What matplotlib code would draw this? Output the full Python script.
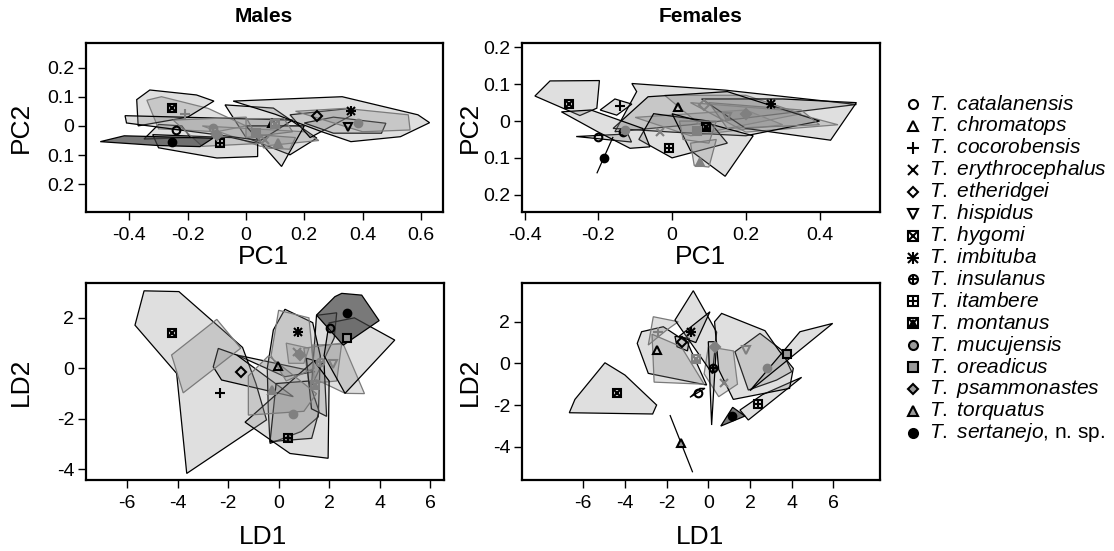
import matplotlib
matplotlib.use("Agg")
import matplotlib.pyplot as plt
from matplotlib.patches import Polygon

plt.rcParams["font.family"] = ["Liberation Sans", "DejaVu Sans"]
plt.rcParams["axes.unicode_minus"] = False
plt.rcParams["mathtext.fontset"] = "custom"
plt.rcParams["mathtext.rm"] = "Liberation Sans"
plt.rcParams["mathtext.it"] = "Liberation Sans:italic"

# species, in legend order
species = ["catalanensis", "chromatops", "cocorobensis", "erythrocephalus",
           "etheridgei", "hispidus", "hygomi", "imbituba", "insulanus",
           "itambere", "montanus", "mucujensis", "oreadicus", "psammonastes",
           "torquatus", "sertanejo"]

# ---------------- Males, PCA ----------------
males_pc_centroids = {
    "catalanensis": (-0.24, -0.015), "chromatops": (0.09, 0.01),
    "cocorobensis": (-0.21, 0.04), "erythrocephalus": (0.065, -0.05),
    "etheridgei": (0.245, 0.033), "hispidus": (0.35, -0.005),
    "hygomi": (-0.255, 0.061), "imbituba": (0.36, 0.05),
    "insulanus": (-0.112, -0.008), "itambere": (-0.09, -0.058),
    "montanus": (0.10, 0.005), "mucujensis": (0.385, 0.011),
    "oreadicus": (0.035, -0.025), "psammonastes": (-0.10, -0.03),
    "torquatus": (0.11, -0.06), "sertanejo": (-0.253, -0.054),
}
males_pc_hulls = {
    "hygomi": [(-0.375, 0.09), (-0.33, 0.123), (-0.17, 0.106), (-0.11, 0.085), (-0.2, 0.03), (-0.37, 0.0)],
    "cocorobensis": [(-0.34, 0.088), (-0.29, 0.1), (-0.13, 0.06), (0.0, 0.0), (-0.1, -0.02), (-0.3, -0.01)],
    "catalanensis": [(-0.3, 0.005), (-0.22, 0.0), (-0.19, -0.04), (-0.35, -0.045)],
    "sertanejo": [(-0.5, -0.054), (-0.418, -0.034), (-0.113, -0.042), (-0.158, -0.071), (-0.306, -0.067)],
    "itambere": [(-0.32, -0.03), (-0.05, -0.04), (0.04, -0.06), (0.04, -0.105), (-0.1, -0.11), (-0.3, -0.075)],
    "insulanus": [(-0.415, 0.035), (0.16, 0.02), (0.05, -0.05), (-0.41, 0.01)],
    "chromatops": [(-0.072, 0.072), (0.094, 0.061), (0.243, -0.042), (0.151, -0.099), (0.0, -0.04)],
    "oreadicus": [(0.0, 0.025), (0.13, 0.025), (0.16, -0.02), (0.0, -0.04)],
    "erythrocephalus": [(-0.15, 0.0), (0.2, -0.02), (0.25, -0.05), (0.05, -0.07)],
    "torquatus": [(0.04, -0.03), (0.17, -0.04), (0.15, -0.08), (0.06, -0.075)],
    "montanus": [(0.0, 0.0), (0.2, 0.0), (0.122, -0.139)],
    "psammonastes": [(-0.25, 0.02), (0.0, 0.03), (0.05, -0.06), (-0.15, -0.07)],
    "etheridgei": [(0.151, 0.038), (0.357, 0.06), (0.36, 0.035), (0.22, -0.04)],
    "hispidus": [(0.2, 0.01), (0.3, 0.03), (0.48, 0.009), (0.465, -0.025), (0.3, -0.025)],
    "mucujensis": [(0.17, 0.05), (0.34, 0.06), (0.557, 0.038), (0.563, -0.014), (0.4, -0.02)],
    "imbituba": [(-0.044, 0.085), (0.33, 0.1), (0.59, 0.038), (0.63, 0.011), (0.53, -0.037),
                 (0.36, -0.054), (0.26, -0.02), (0.1, 0.04)],
}
males_pc_grey_edges = ["cocorobensis", "oreadicus", "erythrocephalus", "torquatus", "psammonastes", "mucujensis"]
males_pc_grey_marks = ["cocorobensis", "erythrocephalus", "insulanus", "montanus", "mucujensis",
                       "oreadicus", "psammonastes", "torquatus"]

# ---------------- Females, PCA ----------------
females_pc_centroids = {
    "hygomi": (-0.279, 0.046), "catalanensis": (-0.2, -0.043),
    "sertanejo": (-0.184, -0.099), "cocorobensis": (-0.141, 0.041),
    "chromatops": (0.017, 0.037), "etheridgei": (0.087, 0.043),
    "hispidus": (0.148, 0.012), "montanus": (0.091, -0.015),
    "oreadicus": (0.069, -0.027), "itambere": (-0.007, -0.072),
    "mucujensis": (-0.128, -0.023), "insulanus": (-0.132, -0.029),
    "erythrocephalus": (-0.033, -0.029), "torquatus": (0.076, -0.11),
    "imbituba": (0.269, 0.046), "psammonastes": (0.2, 0.02),
}
females_pc_hulls = {
    "hygomi": [(-0.372, 0.068), (-0.331, 0.109), (-0.197, 0.11), (-0.204, 0.035), (-0.25, 0.015)],
    "catalanensis": [(-0.26, -0.042), (-0.12, -0.035), (-0.11, -0.057)],
    "sertanejo": [(-0.204, -0.142), (-0.16, -0.043)],
    "cocorobensis": [(-0.195, 0.03), (-0.155, 0.06), (-0.109, 0.046), (-0.15, 0.016)],
    "mucujensis": [(-0.3, 0.025), (-0.22, 0.03), (-0.08, -0.02), (-0.06, -0.07), (-0.114, -0.074), (-0.2, -0.03)],
    "chromatops": [(-0.109, 0.102), (-0.096, 0.08), (-0.155, -0.029), (0.05, -0.01), (0.5, 0.045), (0.144, 0.084)],
    "insulanus": [(-0.16, -0.02), (-0.065, 0.066), (0.15, 0.08), (0.4, 0.0), (0.2, -0.04), (0.0, -0.03)],
    "itambere": [(-0.05, 0.02), (0.1, 0.0), (0.15, -0.06), (0.0, -0.1), (-0.09, -0.05)],
    "erythrocephalus": [(-0.1, 0.01), (0.2, 0.03), (0.3, -0.01), (0.05, -0.04)],
    "etheridgei": [(-0.02, 0.07), (0.2, 0.07), (0.35, 0.02), (0.1, -0.03)],
    "hispidus": [(0.05, 0.05), (0.3, 0.03), (0.45, -0.01), (0.2, -0.03)],
    "imbituba": [(0.08, 0.06), (0.3, 0.06), (0.5, 0.05), (0.43, -0.052), (0.2, -0.02)],
    "oreadicus": [(0.02, 0.0), (0.12, 0.0), (0.1, -0.06), (0.03, -0.05)],
    "montanus": [(0.0, 0.02), (0.22, -0.04), (0.144, -0.15), (0.05, -0.08)],
    "torquatus": [(0.05, -0.06), (0.12, -0.05), (0.1, -0.125), (0.06, -0.12)],
    "psammonastes": [(0.1, 0.05), (0.35, 0.03), (0.4, -0.01), (0.15, -0.02)],
}
females_pc_grey_edges = ["erythrocephalus", "etheridgei", "hispidus", "oreadicus", "torquatus", "psammonastes"]
females_pc_grey_marks = ["etheridgei", "hispidus", "oreadicus", "mucujensis", "erythrocephalus",
                         "torquatus", "psammonastes"]

# ---------------- Males, LDA ----------------
males_ld_centroids = {
    "hygomi": (-4.24, 1.39), "cocorobensis": (-2.32, -0.97),
    "etheridgei": (-1.5, -0.13), "chromatops": (-0.02, 0.09),
    "imbituba": (0.78, 1.45), "psammonastes": (0.84, 0.53),
    "mucujensis": (0.58, -1.81), "itambere": (0.38, -2.77),
    "insulanus": (1.64, 0.26), "montanus": (1.44, -0.66),
    "torquatus": (-0.28, -0.86), "catalanensis": (2.03, 1.58),
    "hispidus": (2.14, 0.16), "sertanejo": (2.72, 2.18),
    "oreadicus": (2.69, 1.21), "erythrocephalus": (0.71, 0.66),
}
males_ld_hulls = {
    "cocorobensis": [(-5.33, 3.07), (-3.95, 3.04), (-1.43, 0.83), (-0.9, -0.6), (-0.48, -2.04),
                     (-3.64, -4.16), (-4.04, -0.2), (-5.69, 1.71)],
    "hygomi": [(-4.24, 0.53), (-2.45, 1.94), (-1.5, 0.8), (-3.78, -0.97)],
    "etheridgei": [(-2.39, 0.79), (-2.59, 0.06), (-2.26, -0.46), (0.58, -1.12), (-1.66, 0.53)],
    "chromatops": [(-1.66, 0.53), (1.44, -0.13), (0.25, -0.33)],
    "imbituba": [(0.25, 2.34), (1.35, 1.81), (1.65, 0.5), (1.57, -1.92), (0.9, -2.5), (-0.34, -2.97),
                 (-0.41, -1.65), (-0.45, 0.0), (-0.21, 1.52)],
    "mucujensis": [(-1.33, -2.13), (1.4, 0.3), (2.0, -0.5), (1.96, -3.56), (0.45, -3.37)],
    "itambere": [(-0.34, -2.9), (1.31, -2.77), (1.6, -1.7), (1.2, -0.5), (-0.1, -0.6)],
    "torquatus": [(-1.2, -1.85), (-1.2, -0.3), (-0.4, 0.5), (1.5, -1.0), (1.0, -1.7)],
    "psammonastes": [(0.0, 2.3), (1.2, 2.0), (1.4, 0.0), (0.3, -0.5), (-0.3, 0.5)],
    "erythrocephalus": [(0.3, 1.0), (1.2, 0.8), (1.0, 0.2), (0.4, 0.2)],
    "insulanus": [(1.0, 0.8), (2.5, 1.0), (2.3, -0.5), (1.2, -0.6)],
    "montanus": [(1.1, 0.4), (1.8, 0.2), (1.9, -1.9), (1.3, -1.6)],
    "hispidus": [(1.31, 0.92), (2.56, 0.96), (3.4, -1.0), (2.64, -0.99), (1.4, -0.4)],
    "catalanensis": [(1.5, 2.1), (2.3, 2.2), (2.2, 1.2), (1.3, -0.7)],
    "sertanejo": [(1.5, 2.11), (2.23, 2.84), (2.5, 2.97), (3.29, 2.9), (3.98, 1.89), (2.56, 0.92)],
    "oreadicus": [(2.0, 1.8), (3.0, 2.0), (4.6, 1.12), (2.63, -0.99), (1.8, 0.5)],
}
males_ld_grey_edges = ["hygomi", "torquatus", "psammonastes", "erythrocephalus", "insulanus", "hispidus"]
males_ld_grey_marks = ["psammonastes", "mucujensis", "insulanus", "montanus", "torquatus",
                       "hispidus", "erythrocephalus"]

# ---------------- Females, LDA ----------------
females_ld_centroids = {
    "hygomi": (-4.4, -1.41), "torquatus": (-1.31, -3.84),
    "cocorobensis": (-2.4, 1.52), "chromatops": (-2.48, 0.64),
    "etheridgei": (-1.28, 1.04), "imbituba": (-0.83, 1.52),
    "catalanensis": (-0.48, -1.44), "insulanus": (0.24, -0.24),
    "erythrocephalus": (0.77, -0.93), "sertanejo": (1.15, -2.53),
    "itambere": (2.4, -1.94), "hispidus": (1.81, 0.64),
    "mucujensis": (2.8, -0.24), "oreadicus": (3.79, 0.43),
    "psammonastes": (0.3, 0.8), "montanus": (-0.6, 0.2),
}
females_ld_hulls = {
    "hygomi": [(-4.96, 0.03), (-4.0, -0.56), (-2.48, -2.0), (-2.67, -2.43), (-6.67, -2.37), (-6.4, -1.73)],
    "torquatus": [(-1.84, -2.48), (-0.75, -5.23)],
    "cocorobensis": [(-2.64, 2.24), (-1.44, 2.0), (-2.0, 1.6), (-2.88, 0.88)],
    "chromatops": [(-3.2, 1.52), (-2.16, 1.76), (-1.0, 1.0), (-0.08, -1.04), (-2.88, -0.48), (-3.41, 0.96)],
    "imbituba": [(-0.72, 3.49), (0.4, 1.5), (0.2, -0.5), (-1.6, 2.08)],
    "etheridgei": [(-1.6, 1.3), (-0.9, 1.2), (-1.0, 0.6), (-1.5, 0.8)],
    "psammonastes": [(-1.4, 1.3), (0.08, 2.48), (-0.6, 1.0)],
    "catalanensis": [(-0.88, -1.63), (-0.16, -1.2), (-0.4, -1.2)],
    "insulanus": [(0.0, 1.04), (0.4, 1.04), (0.16, -2.96)],
    "montanus": [(-2.7, 1.4), (-1.3, 0.8), (-0.2, -1.0), (-2.6, -0.9)],
    "erythrocephalus": [(0.0, 0.8), (1.2, 0.6), (1.4, -1.0), (0.5, -1.6), (-0.2, -0.5)],
    "sertanejo": [(0.6, -3.01), (1.17, -2.11), (1.76, -2.53)],
    "itambere": [(1.52, -2.24), (1.92, -2.72), (4.48, -0.67), (2.6, -1.5)],
    "hispidus": [(1.28, 0.56), (2.48, 1.44), (3.52, 0.64), (4.0, -0.4), (3.28, -0.8), (1.92, -1.28)],
    "mucujensis": [(0.3, 2.0), (0.64, 2.4), (2.72, 1.57), (3.4, 0.6), (4.08, -0.24), (3.9, -1.2),
                   (1.2, -1.73), (0.5, -0.3)],
    "oreadicus": [(2.0, -1.31), (4.4, 1.52), (5.97, 1.92)],
}
females_ld_grey_edges = ["cocorobensis", "montanus", "erythrocephalus"]
females_ld_grey_marks = ["cocorobensis", "erythrocephalus", "hispidus", "mucujensis", "psammonastes", "montanus"]

# symbols (R pch look-alikes): marker, face, size factor
SYMBOLS = {
    "catalanensis": [("o", "none", 1.0)],
    "chromatops": [("^", "none", 1.0)],
    "cocorobensis": [("+", "line", 1.4)],
    "erythrocephalus": [("x", "line", 1.0)],
    "etheridgei": [("D", "none", 0.85)],
    "hispidus": [("v", "none", 1.0)],
    "hygomi": [("s", "none", 1.0), ("x", "line", 0.8)],
    "imbituba": [("+", "line", 1.3), ("x", "line", 1.0)],
    "insulanus": [("o", "none", 1.0), ("+", "line", 1.0)],
    "itambere": [("s", "none", 1.0), ("+", "line", 1.0)],
    "montanus": [("s", "none", 1.0), ("x", "line", 0.8), ("^", "none", 0.6)],
    "mucujensis": [("o", "grey", 1.0)],
    "oreadicus": [("s", "grey", 1.0)],
    "psammonastes": [("D", "grey", 0.85)],
    "torquatus": [("^", "grey", 1.0)],
    "sertanejo": [("o", "solid", 1.0)],
}


def draw_symbol(ax, sp, x, y, color, ms, edge="black"):
    for m, face, f in SYMBOLS[sp]:
        if face == "none":
            mfc, mec = "none", color
        elif face == "grey":
            mfc, mec = "#9a9a9a" if color == "black" else color, edge if color == "black" else color
        else:
            mfc, mec = color, color
        ax.plot([x], [y], marker=m, ms=ms * f, mfc=mfc, mec=mec, mew=1.5,
                ls="none", zorder=5)


def draw_panel(ax, hulls, centroids, grey_edges, grey_marks):
    for sp in species:
        if sp in hulls:
            if sp == "sertanejo":
                fc = (0.25, 0.25, 0.25, 0.7)
            else:
                fc = (0.55, 0.55, 0.55, 0.28)
            ec = "#7a7a7a" if sp in grey_edges else "black"
            ax.add_patch(Polygon(hulls[sp], closed=True, fc=fc, ec=ec, lw=0.9, zorder=2))
    for sp in species:
        if sp in centroids:
            col = "#808080" if sp in grey_marks else "black"
            x, y = centroids[sp]
            draw_symbol(ax, sp, x, y, col, 5.5)


def style_axes(ax, xlim, ylim, xt, yt, ytl):
    ax.set_xlim(xlim)
    ax.set_ylim(ylim)
    ax.set_xticks(xt)
    ax.set_xticklabels([("%g" % v) for v in xt])
    ax.set_yticks(yt)
    ax.set_yticklabels(ytl)
    for s in ax.spines.values():
        s.set_linewidth(1.6)
    ax.tick_params(direction="out", length=5.5, width=1.0, labelsize=14)
    ax.tick_params(axis="x", pad=5)
    ax.tick_params(axis="y", pad=3)


W, H = 1114, 551
fig = plt.figure(figsize=(W / 100, H / 100), dpi=100)


def px_axes(l, r, t, b):
    return fig.add_axes([l / W, 1 - b / H, (r - l) / W, (b - t) / H])


pc_yt = [-0.2, -0.1, 0, 0.1, 0.2]
pc_ytl = ["0.2", "0.1", "0", "0.1", "0.2"]
ld_xt = [-6, -4, -2, 0, 2, 4, 6]
ld_yt = [-4, -2, 0, 2]

ax1 = px_axes(86, 443, 43, 212)
draw_panel(ax1, males_pc_hulls, males_pc_centroids, males_pc_grey_edges, males_pc_grey_marks)
style_axes(ax1, (-0.549, 0.676), (-0.295, 0.284), [-0.4, -0.2, 0, 0.2, 0.4, 0.6], pc_yt, pc_ytl)

ax2 = px_axes(522, 880, 43, 212)
draw_panel(ax2, females_pc_hulls, females_pc_centroids, females_pc_grey_edges, females_pc_grey_marks)
style_axes(ax2, (-0.407, 0.564), (-0.247, 0.212), [-0.4, -0.2, 0, 0.2, 0.4], pc_yt, pc_ytl)

ax3 = px_axes(86, 444, 283, 480)
draw_panel(ax3, males_ld_hulls, males_ld_centroids, males_ld_grey_edges, males_ld_grey_marks)
style_axes(ax3, (-7.63, 6.55), (-4.42, 3.38), ld_xt, ld_yt, ["%g" % v for v in ld_yt])

ax4 = px_axes(522, 880, 283, 480)
draw_panel(ax4, females_ld_hulls, females_ld_centroids, females_ld_grey_edges, females_ld_grey_marks)
style_axes(ax4, (-8.94, 8.24), (-5.6, 3.86), ld_xt, ld_yt, ["%g" % v for v in ld_yt])

# titles and axis labels
fig.text(264 / W, 1 - 16 / H, "Males", ha="center", va="center", fontsize=15, fontweight="bold")
fig.text(701 / W, 1 - 16 / H, "Females", ha="center", va="center", fontsize=15, fontweight="bold")
for xc in (263, 700):
    fig.text(xc / W, 1 - 257 / H, "PC1", ha="center", va="center", fontsize=19)
    fig.text(xc / W, 1 - 537 / H, "LD1", ha="center", va="center", fontsize=19)
for xc in (21, 470):
    fig.text(xc / W, 1 - 127 / H, "PC2", ha="center", va="center", fontsize=19, rotation=90)
    fig.text(xc / W, 1 - 382 / H, "LD2", ha="center", va="center", fontsize=19, rotation=90)

# legend
leg = fig.add_axes([0, 0, 1, 1])
leg.set_xlim(0, W)
leg.set_ylim(H, 0)
leg.axis("off")
leg.patch.set_visible(False)
for i, sp in enumerate(species):
    y = 104 + i * 21.93
    draw_symbol(leg, sp, 913, y, "black", 6.5)
    if sp == "sertanejo":
        label = r"$\it{T.\ sertanejo}$, n. sp."
    else:
        label = r"$\it{T.\ %s}$" % sp
    leg.text(929, y, label, ha="left", va="center", fontsize=15)

fig.savefig("out.png", dpi=100)
